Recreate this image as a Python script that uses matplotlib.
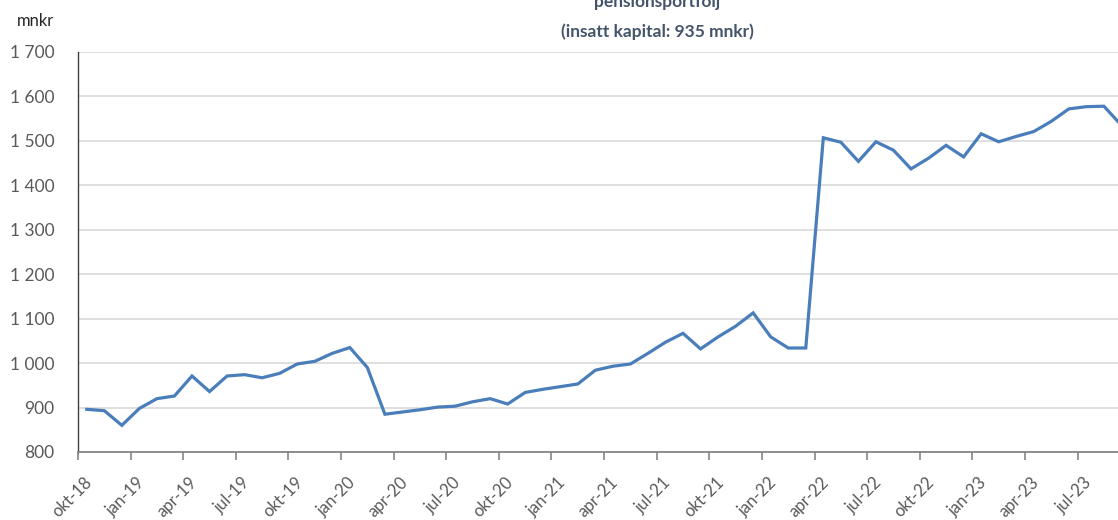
#!/usr/bin/env python3

import matplotlib

matplotlib.use("Agg")
import matplotlib.pyplot as plt
import matplotlib.transforms as mtransforms
import numpy as np
from matplotlib.ticker import FixedLocator, FuncFormatter

# month-end values, okt-18 .. sep-23 (mnkr)
sv_months = ["jan", "feb", "mar", "apr", "maj", "jun", "jul", "aug", "sep", "okt", "nov", "dec"]
start_year, start_month = 2018, 10
values = [
    896, 893, 860, 898, 920, 926, 971, 936, 971, 974, 967, 977,
    998, 1004, 1022, 1035, 990, 885, 890, 895, 901, 903, 913, 920,
    908, 934, 941, 947, 953, 984, 993, 998, 1022, 1047, 1067, 1032,
    1059, 1083, 1113, 1059, 1034, 1034, 1507, 1497, 1454, 1498, 1479, 1437,
    1461, 1490, 1464, 1516, 1498, 1510, 1521, 1544, 1572, 1577, 1578, 1535,
]
title_lines = ["pensionsportfölj", "(insatt kapital: 935 mnkr)"]
unit_label = "mnkr"


def month_labels(n: int) -> list[str]:
    out = []
    for i in range(n):
        m = (start_month - 1 + i) % 12
        y = start_year + (start_month - 1 + i) // 12
        out.append(f"{sv_months[m]}-{y % 100:02d}")
    return out


def render(out_file: str) -> None:
    plt.rcParams.update({"font.family": ["Lato", "DejaVu Sans"]})

    W, H = 1118, 520
    fig = plt.figure(figsize=(W / 100, H / 100), dpi=100, facecolor="white")
    ax = fig.add_axes([78 / W, 1 - 452 / H, 1 - 78 / W, 400 / H])

    labels = month_labels(len(values))
    x = np.arange(len(values))
    ax.plot(x, values, color="#4A7EBB", linewidth=2.3, solid_joinstyle="miter", zorder=3)

    ax.set_ylim(800, 1700)
    ax.set_xlim(-0.5, (W - 86) / 17.55)
    ax.yaxis.set_major_locator(FixedLocator(np.arange(800, 1701, 100)))
    ax.yaxis.set_major_formatter(FuncFormatter(lambda v, _: f"{v:,.0f}".replace(",", " ")))
    ax.grid(axis="y", color="#D9D9D9", linewidth=1.2, zorder=0)
    ax.set_axisbelow(True)

    tick_idx = [i for i in range(len(values)) if i % 3 == 0]
    ax.set_xticks([i - 0.5 for i in tick_idx])
    ax.set_xticklabels([labels[i] for i in tick_idx], rotation=45, ha="right", va="top",
                       rotation_mode="anchor")

    ax.tick_params(axis="y", length=0, pad=17, labelsize=12.5, labelcolor="#595959")
    ax.tick_params(axis="x", length=6, width=1.2, color="#868686", pad=10,
                   labelsize=12, labelcolor="#595959")
    # Excel puts the rotated labels a bit right of the tick marks
    offset = mtransforms.ScaledTranslation(6 / 100, 0, fig.dpi_scale_trans)
    for lab in ax.get_xticklabels():
        lab.set_transform(lab.get_transform() + offset)

    for side in ("top", "right"):
        ax.spines[side].set_visible(False)
    ax.spines["left"].set_color("#404040")
    ax.spines["left"].set_linewidth(1.0)
    ax.spines["bottom"].set_color("#868686")
    ax.spines["bottom"].set_linewidth(1.3)

    fig.text(35 / W, 1 - 21 / H, unit_label, ha="center", va="center", fontsize=12, color="#262626")
    fig.text(657 / W, 1 - 7 / H, title_lines[0], ha="center", va="baseline",
             fontsize=12.5, fontweight="bold", color="#44546A")
    fig.text(657 / W, 1 - 32 / H, title_lines[1], ha="center", va="center",
             fontsize=12.5, fontweight="bold", color="#44546A")

    fig.savefig(out_file, dpi=100, facecolor="white")
    plt.close(fig)


if __name__ == "__main__":
    render("out.png")
